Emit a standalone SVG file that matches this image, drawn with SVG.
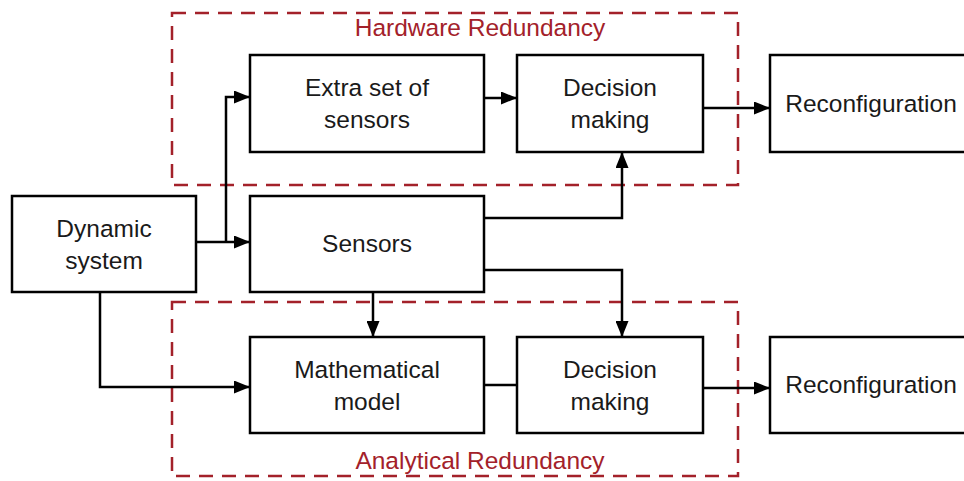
<svg xmlns="http://www.w3.org/2000/svg" width="964" height="481" viewBox="0 0 964 481">
  <defs>
    <marker id="arrow" viewBox="0 0 16 13" refX="16" refY="6.5" markerWidth="16" markerHeight="13" markerUnits="userSpaceOnUse" orient="auto">
      <path d="M0,0 L16,6.5 L0,13 Z" fill="#000"/>
    </marker>
    <style>
      .box { fill: #fff; stroke: #000; stroke-width: 2.5; }
      .lbl { font-family: "Liberation Sans", Arial, sans-serif; font-size: 24.5px; fill: #1a1a1a; text-anchor: middle; }
      .grp { fill: none; stroke: #a3212a; stroke-width: 2.5; stroke-dasharray: 14 9; }
      .grp-lbl { font-family: "Liberation Sans", Arial, sans-serif; font-size: 24.5px; fill: #a3212a; text-anchor: middle; }
      .wire { fill: none; stroke: #000; stroke-width: 2.5; }
    </style>
  </defs>
  <rect width="964" height="481" fill="#fff"/>

  <!-- redundancy groupings -->
  <g id="hardware-redundancy">
    <rect class="grp" x="172" y="13" width="566" height="172"/>
    <text class="grp-lbl" x="480" y="36">Hardware Redundancy</text>
  </g>
  <g id="analytical-redundancy">
    <rect class="grp" x="172" y="302" width="566" height="174"/>
    <text class="grp-lbl" x="480" y="469">Analytical Redundancy</text>
  </g>

  <!-- connectors -->
  <g id="connectors">
    <path class="wire" d="M196,242 H250" marker-end="url(#arrow)"/>
    <path class="wire" d="M226,242 V97 H250" marker-end="url(#arrow)"/>
    <path class="wire" d="M484,98 H517" marker-end="url(#arrow)"/>
    <path class="wire" d="M703,108 H770" marker-end="url(#arrow)"/>
    <path class="wire" d="M484,218 H622 V152" marker-end="url(#arrow)"/>
    <path class="wire" d="M484,270 H622 V337" marker-end="url(#arrow)"/>
    <path class="wire" d="M373,292 V337" marker-end="url(#arrow)"/>
    <path class="wire" d="M100,292 V387 H250" marker-end="url(#arrow)"/>
    <path class="wire" d="M484,385 H517"/>
    <path class="wire" d="M703,388 H770" marker-end="url(#arrow)"/>
  </g>

  <!-- blocks -->
  <g id="dynamic-system">
    <rect class="box" x="12" y="196" width="184" height="96"/>
    <text class="lbl" x="104" y="237">Dynamic</text>
    <text class="lbl" x="104" y="269">system</text>
  </g>
  <g id="extra-sensors">
    <rect class="box" x="250" y="55" width="234" height="97"/>
    <text class="lbl" x="367" y="96">Extra set of</text>
    <text class="lbl" x="367" y="128">sensors</text>
  </g>
  <g id="decision-hw">
    <rect class="box" x="517" y="55" width="186" height="97"/>
    <text class="lbl" x="610" y="96">Decision</text>
    <text class="lbl" x="610" y="128">making</text>
  </g>
  <g id="reconfig-hw">
    <rect class="box" x="770" y="55" width="200" height="97"/>
    <text class="lbl" x="871" y="112">Reconfiguration</text>
  </g>
  <g id="sensors">
    <rect class="box" x="250" y="196" width="234" height="96"/>
    <text class="lbl" x="367" y="252">Sensors</text>
  </g>
  <g id="math-model">
    <rect class="box" x="250" y="337" width="234" height="96"/>
    <text class="lbl" x="367" y="378">Mathematical</text>
    <text class="lbl" x="367" y="410">model</text>
  </g>
  <g id="decision-an">
    <rect class="box" x="517" y="337" width="186" height="96"/>
    <text class="lbl" x="610" y="378">Decision</text>
    <text class="lbl" x="610" y="410">making</text>
  </g>
  <g id="reconfig-an">
    <rect class="box" x="770" y="337" width="200" height="96"/>
    <text class="lbl" x="871" y="393">Reconfiguration</text>
  </g>
</svg>
